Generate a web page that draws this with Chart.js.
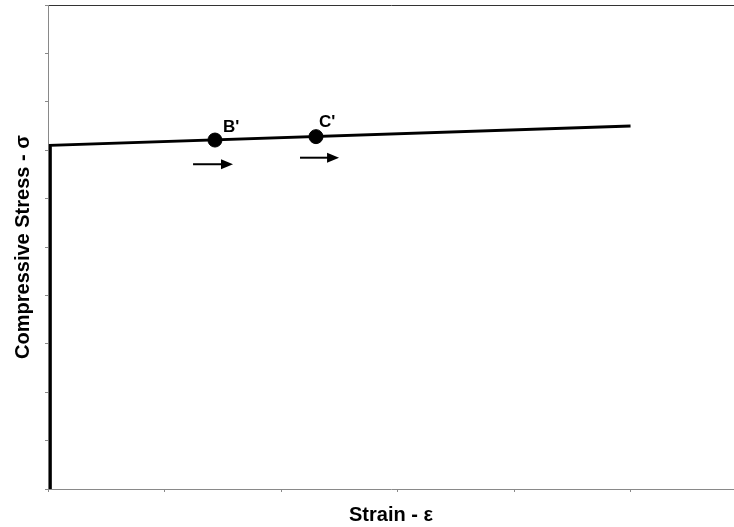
<!DOCTYPE html>
<html>
<head>
<meta charset="utf-8">
<script src="https://cdn.jsdelivr.net/npm/chart.js@4"></script>
<style>
  body { margin: 0; background: #fff; }
</style>
</head>
<body>
<canvas id="myChart" width="734" height="527"></canvas>
<script>
// curva sforzo-deformazione (unita arbitrarie)
const curveX = [0.02, 0.02, 5.0];
const curveY = [0, 7.1, 7.5];

// punti B' e C'
const pointNames = ["B'", "C'"];
const pointX = [1.433, 2.30];
const pointY = [7.21, 7.28];

// frecce sotto i punti (inizio/fine in x, quota y)
const arrowX0 = [1.245, 2.163];
const arrowX1 = [1.588, 2.498];
const arrowY = [6.71, 6.845];

const xTitle = 'Strain - ε';
const yTitle = 'Compressive Stress - σ';

const axisGray = '#898989';
const titleFont = { family: 'Liberation Sans', size: 20, weight: 'bold' };

// etichette e frecce disegnate sopra il grafico
const annotations = {
    id: 'annotations',
    afterDatasetsDraw(chart) {
        const c = chart.ctx;
        const xs = chart.scales.x;
        const ys = chart.scales.y;
        const offsets = [[8, -8], [3, -10]];
        c.save();
        c.fillStyle = '#000';
        c.font = 'bold 17px "Liberation Sans"';
        c.textBaseline = 'alphabetic';
        c.textAlign = 'left';
        for (let i = 0; i < pointNames.length; i++) {
            const px = xs.getPixelForValue(pointX[i]);
            const py = ys.getPixelForValue(pointY[i]);
            c.fillText(pointNames[i], px + offsets[i][0], py + offsets[i][1]);
        }
        // frecce
        c.strokeStyle = '#000';
        c.lineWidth = 2;
        for (let i = 0; i < arrowY.length; i++) {
            const x0 = xs.getPixelForValue(arrowX0[i]);
            const x1 = xs.getPixelForValue(arrowX1[i]);
            const y = ys.getPixelForValue(arrowY[i]);
            c.beginPath();
            c.moveTo(x0, y);
            c.lineTo(x1 - 10, y);
            c.stroke();
            c.beginPath();
            c.moveTo(x1, y);
            c.lineTo(x1 - 12, y - 5);
            c.lineTo(x1 - 12, y + 5);
            c.closePath();
            c.fill();
        }
        c.restore();
    }
};

const ctx = document.getElementById('myChart');

new Chart(ctx, {
    type: 'scatter',
    data: {
        datasets: [{
            type: 'line',
            data: curveX.map((x, i) => ({ x: x, y: curveY[i] })),
            borderColor: '#000',
            borderWidth: 3,
            pointRadius: 0,
            tension: 0,
            fill: false
        }, {
            data: pointX.map((x, i) => ({ x: x, y: pointY[i] })),
            backgroundColor: '#000',
            borderColor: '#000',
            pointRadius: 7,
            pointHoverRadius: 7
        }]
    },
    options: {
        responsive: false,
        animation: false,
        layout: {
            autoPadding: false,
            padding: { left: 11, top: 5, right: 0, bottom: 0 }
        },
        plugins: {
            legend: { display: false },
            tooltip: { enabled: false }
        },
        scales: {
            x: {
                type: 'linear',
                position: 'bottom',
                min: 0,
                max: 5.888,
                ticks: { display: false, stepSize: 1 },
                afterBuildTicks: (s) => { s.ticks = s.ticks.filter(t => Number.isInteger(t.value)); },
                grid: { drawOnChartArea: false, color: axisGray, tickLength: 3 },
                border: { color: axisGray, width: 1 },
                title: {
                    display: true,
                    text: xTitle,
                    color: '#000',
                    font: titleFont,
                    padding: { top: 0, bottom: 0 }
                },
                afterFit: (s) => { s.height = 38; }
            },
            x2: {
                type: 'linear',
                position: 'top',
                ticks: { display: false },
                grid: { display: false },
                border: { color: '#333', width: 1 },
                afterFit: (s) => { s.height = 0; }
            },
            y: {
                min: 0,
                max: 10,
                ticks: { display: false, stepSize: 1 },
                grid: { drawOnChartArea: false, color: axisGray, tickLength: 3 },
                border: { color: axisGray, width: 1 },
                title: {
                    display: true,
                    text: yTitle,
                    color: '#000',
                    font: titleFont,
                    padding: { top: 0, bottom: 0 }
                },
                afterFit: (s) => { s.width = 37; }
            }
        }
    },
    plugins: [annotations]
});
</script>
</body>
</html>
